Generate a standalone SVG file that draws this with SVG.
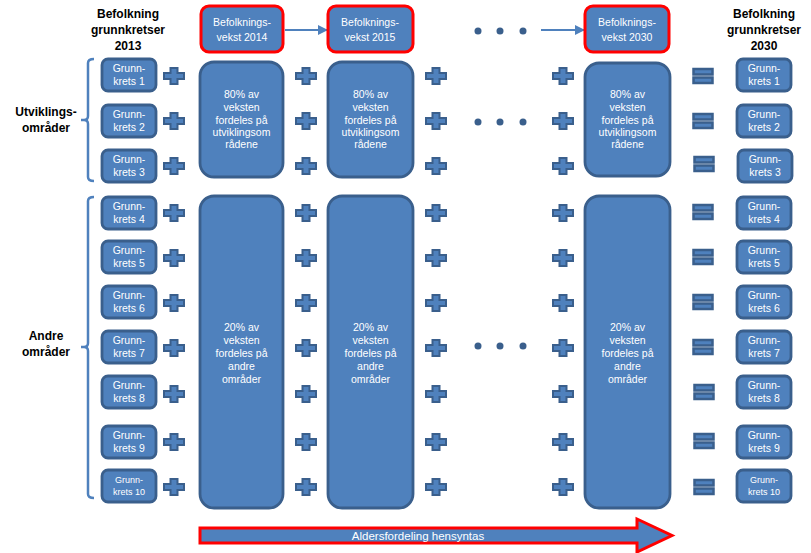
<svg xmlns="http://www.w3.org/2000/svg" xmlns:xlink="http://www.w3.org/1999/xlink" width="811" height="553" viewBox="0 0 811 553">
<style>
.box{fill:#4F81BD;stroke:#3A5F8C;stroke-width:2.8}
.top{fill:#4F81BD;stroke:#FF0000;stroke-width:3}
.t{font-family:"Liberation Sans",Arial,sans-serif;font-size:10.5px;fill:#FFFFFF;text-anchor:middle}
.ts{font-size:9px}
.h{font-family:"Liberation Sans",Arial,sans-serif;font-size:12px;font-weight:bold;fill:#000;text-anchor:middle}
.lbl{font-family:"Liberation Sans",Arial,sans-serif;font-size:12px;font-weight:bold;fill:#000;text-anchor:middle}
.sym{fill:#4F81BD;stroke:#3A5F8C;stroke-width:2}
.eqb{fill:#4F81BD;stroke:#3A5F8C;stroke-width:2.5}
.br{fill:none;stroke:#4F81BD;stroke-width:2.5}
.con{stroke:#4F81BD;stroke-width:2;fill:none}
.dot{fill:#3A5F8C}
</style>
<defs>
<path id="plus" class="sym" d="M-3.5,-8 h7 v5 h6.5 v6 h-6.5 v5 h-7 v-5 h-6.5 v-6 h6.5 z"/>
<g id="eq"><rect class="eqb" x="-9.5" y="-7" width="19" height="5.5"/><rect class="eqb" x="-9.5" y="1.5" width="19" height="5.5"/></g>
<marker id="ah" markerWidth="10" markerHeight="10" refX="9" refY="5" orient="auto" markerUnits="userSpaceOnUse"><path d="M0,0 L10,5 L0,10 z" fill="#4F81BD"/></marker>
</defs>

<g id="headers">
<text class="h" x="128" y="18">Befolkning</text>
<text class="h" x="128" y="34">grunnkretser</text>
<text class="h" x="128" y="50">2013</text>
<text class="h" x="764" y="18">Befolkning</text>
<text class="h" x="764" y="34">grunnkretser</text>
<text class="h" x="764" y="50">2030</text>
</g>

<g id="labels">
<text class="lbl" x="46" y="116">Utviklings-</text>
<text class="lbl" x="46" y="132">områder</text>
<text class="lbl" x="46" y="340">Andre</text>
<text class="lbl" x="46" y="356">områder</text>
<path class="br" d="M94,59 Q88,59 88,63 V116 Q88,120 84,120 H81 M84,120 Q88,120 88,124 V177 Q88,181 94,181"/>
<path class="br" d="M94,197 Q88,197 88,201 V343 Q88,347 84,347 H81 M84,347 Q88,347 88,351 V494 Q88,498 94,498"/>
</g>

<g id="connectors">
<line class="con" x1="285" y1="30" x2="327" y2="30" marker-end="url(#ah)"/>
<line class="con" x1="541" y1="30" x2="584" y2="30" marker-end="url(#ah)"/>
<circle class="dot" cx="478" cy="31" r="3.5"/><circle class="dot" cx="500" cy="31" r="3.5"/><circle class="dot" cx="523" cy="31" r="3.5"/>
<circle class="dot" cx="478" cy="122" r="3.5"/><circle class="dot" cx="500" cy="122" r="3.5"/><circle class="dot" cx="523" cy="122" r="3.5"/>
<circle class="dot" cx="478" cy="346" r="3.5"/><circle class="dot" cx="500" cy="346" r="3.5"/><circle class="dot" cx="523" cy="346" r="3.5"/>
</g>

<g id="top2014"><rect class="top" x="201" y="6" width="82" height="46" rx="8"/><text class="t" x="242" y="26">Befolknings-</text><text class="t" x="242" y="41">vekst 2014</text></g>
<g id="top2015"><rect class="top" x="328" y="6" width="85" height="46" rx="8"/><text class="t" x="370" y="26">Befolknings-</text><text class="t" x="370" y="41">vekst 2015</text></g>
<g id="top2030"><rect class="top" x="585" y="6" width="84" height="46" rx="8"/><text class="t" x="627" y="26">Befolknings-</text><text class="t" x="627" y="41">vekst 2030</text></g>

<g id="left">
<g id="L1"><rect class="box" x="102" y="59" width="54" height="32" rx="6"/><text class="t" x="129" y="72">Grunn-</text><text class="t" x="129" y="85">krets 1</text></g>
<g id="L2"><rect class="box" x="102" y="105" width="54" height="32" rx="6"/><text class="t" x="129" y="118">Grunn-</text><text class="t" x="129" y="131">krets 2</text></g>
<g id="L3"><rect class="box" x="102" y="150" width="54" height="32" rx="6"/><text class="t" x="129" y="163">Grunn-</text><text class="t" x="129" y="176">krets 3</text></g>
<g id="L4"><rect class="box" x="102" y="197" width="54" height="32" rx="6"/><text class="t" x="129" y="210">Grunn-</text><text class="t" x="129" y="223">krets 4</text></g>
<g id="L5"><rect class="box" x="102" y="241" width="54" height="32" rx="6"/><text class="t" x="129" y="254">Grunn-</text><text class="t" x="129" y="267">krets 5</text></g>
<g id="L6"><rect class="box" x="102" y="286" width="54" height="32" rx="6"/><text class="t" x="129" y="299">Grunn-</text><text class="t" x="129" y="312">krets 6</text></g>
<g id="L7"><rect class="box" x="102" y="331" width="54" height="32" rx="6"/><text class="t" x="129" y="344">Grunn-</text><text class="t" x="129" y="357">krets 7</text></g>
<g id="L8"><rect class="box" x="102" y="376" width="54" height="32" rx="6"/><text class="t" x="129" y="389">Grunn-</text><text class="t" x="129" y="402">krets 8</text></g>
<g id="L9"><rect class="box" x="102" y="426" width="54" height="32" rx="6"/><text class="t" x="129" y="439">Grunn-</text><text class="t" x="129" y="452">krets 9</text></g>
<g id="L10"><rect class="box" x="102" y="470" width="54" height="32" rx="6"/><text class="t ts" x="129" y="483">Grunn-</text><text class="t ts" x="129" y="495">krets  10</text></g>
</g>

<g id="right">
<g id="R1"><rect class="box" x="737" y="59" width="54" height="32" rx="6"/><text class="t" x="764" y="72">Grunn-</text><text class="t" x="764" y="85">krets 1</text></g>
<g id="R2"><rect class="box" x="737" y="105" width="54" height="32" rx="6"/><text class="t" x="764" y="118">Grunn-</text><text class="t" x="764" y="131">krets 2</text></g>
<g id="R3"><rect class="box" x="738" y="150" width="54" height="32" rx="6"/><text class="t" x="765" y="163">Grunn-</text><text class="t" x="765" y="176">krets 3</text></g>
<g id="R4"><rect class="box" x="737" y="197" width="54" height="32" rx="6"/><text class="t" x="764" y="210">Grunn-</text><text class="t" x="764" y="223">krets 4</text></g>
<g id="R5"><rect class="box" x="737" y="241" width="54" height="32" rx="6"/><text class="t" x="764" y="254">Grunn-</text><text class="t" x="764" y="267">krets 5</text></g>
<g id="R6"><rect class="box" x="737" y="286" width="54" height="32" rx="6"/><text class="t" x="764" y="299">Grunn-</text><text class="t" x="764" y="312">krets 6</text></g>
<g id="R7"><rect class="box" x="737" y="331" width="54" height="32" rx="6"/><text class="t" x="764" y="344">Grunn-</text><text class="t" x="764" y="357">krets 7</text></g>
<g id="R8"><rect class="box" x="737" y="376" width="54" height="32" rx="6"/><text class="t" x="764" y="389">Grunn-</text><text class="t" x="764" y="402">krets 8</text></g>
<g id="R9"><rect class="box" x="737" y="426" width="54" height="32" rx="6"/><text class="t" x="764" y="439">Grunn-</text><text class="t" x="764" y="452">krets 9</text></g>
<g id="R10"><rect class="box" x="737" y="470" width="54" height="32" rx="6"/><text class="t ts" x="764" y="483">Grunn-</text><text class="t ts" x="764" y="495">krets  10</text></g>
</g>

<g id="big80a"><rect class="box" x="200" y="62" width="83" height="115" rx="14"/>
<text class="t" x="241.5" y="98">80% av</text><text class="t" x="241.5" y="111">veksten</text><text class="t" x="241.5" y="124">fordeles på</text><text class="t" x="241.5" y="136">utviklingsom</text><text class="t" x="241.5" y="148">rådene</text></g>
<g id="big80b"><rect class="box" x="328" y="62" width="85" height="115" rx="14"/>
<text class="t" x="370.5" y="98">80% av</text><text class="t" x="370.5" y="111">veksten</text><text class="t" x="370.5" y="124">fordeles på</text><text class="t" x="370.5" y="136">utviklingsom</text><text class="t" x="370.5" y="148">rådene</text></g>
<g id="big80c"><rect class="box" x="585" y="63" width="85" height="113" rx="14"/>
<text class="t" x="627.5" y="98">80% av</text><text class="t" x="627.5" y="111">veksten</text><text class="t" x="627.5" y="124">fordeles på</text><text class="t" x="627.5" y="136">utviklingsom</text><text class="t" x="627.5" y="148">rådene</text></g>

<g id="big20a"><rect class="box" x="200" y="196" width="83" height="312" rx="14"/>
<text class="t" x="241.5" y="331">20% av</text><text class="t" x="241.5" y="344">veksten</text><text class="t" x="241.5" y="357">fordeles på</text><text class="t" x="241.5" y="370">andre</text><text class="t" x="241.5" y="383">områder</text></g>
<g id="big20b"><rect class="box" x="328" y="196" width="85" height="312" rx="14"/>
<text class="t" x="370.5" y="331">20% av</text><text class="t" x="370.5" y="344">veksten</text><text class="t" x="370.5" y="357">fordeles på</text><text class="t" x="370.5" y="370">andre</text><text class="t" x="370.5" y="383">områder</text></g>
<g id="big20c"><rect class="box" x="585" y="196" width="85" height="312" rx="14"/>
<text class="t" x="627.5" y="331">20% av</text><text class="t" x="627.5" y="344">veksten</text><text class="t" x="627.5" y="357">fordeles på</text><text class="t" x="627.5" y="370">andre</text><text class="t" x="627.5" y="383">områder</text></g>

<g id="operators">
<use href="#plus" x="174" y="76"/><use href="#plus" x="174" y="121"/><use href="#plus" x="174" y="166"/><use href="#plus" x="174" y="213"/><use href="#plus" x="174" y="258"/><use href="#plus" x="174" y="303"/><use href="#plus" x="174" y="348"/><use href="#plus" x="174" y="394"/><use href="#plus" x="174" y="442"/><use href="#plus" x="174" y="487"/>
<use href="#plus" x="306" y="76"/><use href="#plus" x="306" y="121"/><use href="#plus" x="306" y="166"/><use href="#plus" x="306" y="213"/><use href="#plus" x="306" y="258"/><use href="#plus" x="306" y="303"/><use href="#plus" x="306" y="348"/><use href="#plus" x="306" y="394"/><use href="#plus" x="306" y="442"/><use href="#plus" x="306" y="487"/>
<use href="#plus" x="436" y="76"/><use href="#plus" x="436" y="121"/><use href="#plus" x="436" y="166"/><use href="#plus" x="436" y="213"/><use href="#plus" x="436" y="258"/><use href="#plus" x="436" y="303"/><use href="#plus" x="436" y="348"/><use href="#plus" x="436" y="394"/><use href="#plus" x="436" y="442"/><use href="#plus" x="436" y="487"/>
<use href="#plus" x="563" y="76"/><use href="#plus" x="563" y="121"/><use href="#plus" x="563" y="166"/><use href="#plus" x="563" y="213"/><use href="#plus" x="563" y="258"/><use href="#plus" x="563" y="303"/><use href="#plus" x="563" y="348"/><use href="#plus" x="563" y="394"/><use href="#plus" x="563" y="442"/><use href="#plus" x="563" y="487"/>
<use href="#eq" x="703" y="76"/><use href="#eq" x="703" y="121"/><use href="#eq" x="704" y="164"/><use href="#eq" x="703" y="212"/><use href="#eq" x="703" y="257"/><use href="#eq" x="703" y="302"/><use href="#eq" x="703" y="347"/><use href="#eq" x="704" y="392"/><use href="#eq" x="704" y="441"/><use href="#eq" x="704" y="487"/>
</g>

<g id="ageArrow">
<path d="M200,528 H637 V519 L672,535.5 L637,552 V543 H200 Z" fill="#4F81BD" stroke="#FF0000" stroke-width="3" stroke-linejoin="miter"/>
<text class="t" x="418" y="539.5" style="font-size:11.5px">Aldersfordeling hensyntas</text>
</g>
</svg>
